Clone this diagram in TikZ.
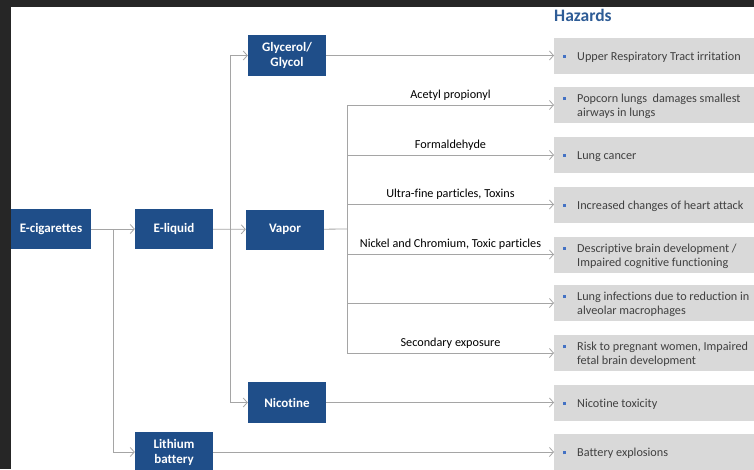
\documentclass[tikz,border=0pt]{standalone}
\usepackage{fontspec}
\setmainfont{Carlito}[Ligatures=NoCommon]
\usepackage{tikz}
\usetikzlibrary{arrows.meta,positioning,calc}
\definecolor{boxblue}{RGB}{31,78,137}
\definecolor{titleblue}{RGB}{46,92,150}
\definecolor{hzgray}{RGB}{217,217,217}
\definecolor{linegray}{RGB}{165,165,165}
\definecolor{txtgray}{RGB}{64,64,64}
\definecolor{bulblue}{RGB}{68,114,196}
\definecolor{frame}{RGB}{38,38,38}
\tikzset{>={Straight Barb[length=4pt,width=9pt]}}
\tikzset{
  part/.style={draw=none, fill=boxblue, text=white, font=\fontsize{13}{15}\selectfont\bfseries,
    minimum width=78pt, minimum height=40pt, align=center, inner sep=0pt},
  hazard/.style={fill=hzgray, text=txtgray, anchor=west, minimum width=200pt,
    minimum height=36pt, inner sep=0pt, font=\fontsize{12.2}{14}\selectfont},
  link/.style={draw=linegray, line width=0.8pt},
  cause/.style={text=black, font=\fontsize{12.2}{14}\selectfont, above=1pt},
}
% one bullet line of the hazard column
\newcommand{\hzitem}[1]{\raisebox{-1.5pt}[\height][\depth]{\hspace*{9pt}%
  \makebox[14pt][l]{\raisebox{2.5pt}{\color{bulblue}\rule{2.8pt}{2.8pt}}}%
  \parbox[t]{177pt}{\raggedright #1}}}
\begin{document}
\begin{tikzpicture}[x=1pt,y=-1pt]
  \useasboundingbox (0,0) rectangle (754,469);
  \fill[frame] (0,0) rectangle (754,469);
  \fill[white] (11,7) rectangle (754,469);
  \begin{scope}
  \clip (11,7) rectangle (754,469);
  % components
  \node[part, minimum width=80pt] (ecig) at (51,229) {E-cigarettes};
  \node[part] (eliq) at (174,229) {E-liquid};
  \node[part] (vap) at (285,229.5) {Vapor};
  \node[part, minimum height=41pt] (glyc) at (287,55.5) {Glycerol/\\Glycol};
  \node[part, minimum height=41pt] (nico) at (287,402.5) {Nicotine};
  \node[part] (lith) at (174,452) {Lithium\\battery};
  % hazards column
  \node[anchor=west, text=titleblue, font=\fontsize{17.5}{20}\selectfont\bfseries, inner sep=0pt]
    (title) at (554,15) {Hazards};
  \node[hazard] (h1) at (554,55.5) {\hzitem{Upper Respiratory Tract irritation}};
  \node[hazard] (h2) at (554,105) {\hzitem{Popcorn lungs\ \ damages smallest\\airways in lungs}};
  \node[hazard] (h3) at (554,155) {\hzitem{Lung cancer}};
  \node[hazard] (h4) at (554,204.5) {\hzitem{Increased changes of heart attack}};
  \node[hazard] (h5) at (554,254.5) {\hzitem{Descriptive brain development /\\Impaired cognitive functioning}};
  \node[hazard] (h6) at (554,303) {\hzitem{Lung infections due to reduction in\\alveolar macrophages}};
  \node[hazard] (h7) at (554,353) {\hzitem{Risk to pregnant women, Impaired\\fetal brain development}};
  \node[hazard] (h8) at (554,402.5) {\hzitem{Nicotine toxicity}};
  \node[hazard] (h9) at (554,452) {\hzitem{Battery explosions}};
  % junctions
  \coordinate (j1) at (113,229);
  \coordinate (j2) at (230,229);
  \coordinate (j3) at (347,229);
  % connectors
  \draw[link,->] (ecig) -- (eliq);
  \draw[link,->] (j1) |- (lith.west);
  \draw[link,->] (eliq) -- (vap);
  \draw[link,->] (j2) |- (glyc.west);
  \draw[link,->] (j2) |- (nico.west);
  \draw[link] (vap) -- (j3);
  \draw[link,->] (glyc) -- (h1);
  \draw[link,->] (j3) |- (h2.west) node[cause, pos=0.75] {Acetyl propionyl};
  \draw[link,->] (j3) |- (h3.west) node[cause, pos=0.75] {Formaldehyde};
  \draw[link,->] (j3) |- (h4.west) node[cause, pos=0.75] {Ultra-fine particles, Toxins};
  \draw[link,->] (j3) |- (h5.west) node[cause, pos=0.75] {Nickel and Chromium, Toxic particles};
  \draw[link,->] (j3) |- (h6.west);
  \draw[link,->] (j3) |- (h7.west) node[cause, pos=0.75] {Secondary exposure};
  \draw[link,->] (nico) -- (h8);
  \draw[link,->] (lith) -- (h9);
  \end{scope}
\end{tikzpicture}
\end{document}
